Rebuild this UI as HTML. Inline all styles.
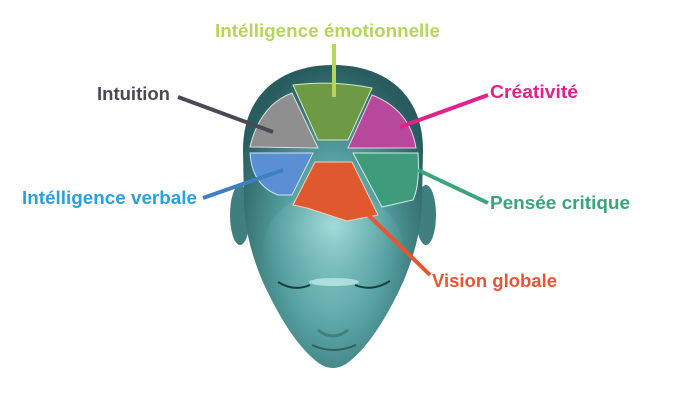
<!DOCTYPE html>
<html><head><style>
body{margin:0;background:#fff;width:679px;height:410px;overflow:hidden}
svg text{font-family:"Liberation Sans",sans-serif;font-weight:bold;font-size:18px}
</style></head><body>
<svg width="679" height="410" viewBox="0 0 679 410" xmlns="http://www.w3.org/2000/svg">
<defs>
<radialGradient id="hg" cx="0.5" cy="0.6" r="0.6">
<stop offset="0" stop-color="#8fd0cf"/><stop offset="0.5" stop-color="#559f9f"/><stop offset="1" stop-color="#285c5e"/>
</radialGradient>
<radialGradient id="fg" cx="0.5" cy="0.3" r="0.6">
<stop offset="0" stop-color="#a5dcdb"/><stop offset="1" stop-color="#4e9899" stop-opacity="0"/>
</radialGradient>
</defs>
<ellipse cx="240" cy="215" rx="10" ry="30" fill="#3f7f80"/>
<ellipse cx="426" cy="215" rx="10" ry="30" fill="#3f7f80"/>
<path d="M333,65 C280,65 243,95 243,150 L244,205 C246,235 252,255 262,280 C280,320 300,350 320,364 Q333,372 346,364 C366,350 386,320 404,280 C414,255 420,235 422,205 L423,150 C423,95 386,65 333,65 Z" fill="url(#hg)"/>
<ellipse cx="333" cy="250" rx="70" ry="60" fill="url(#fg)"/>
<path d="M278,282 Q294,292 310,285" stroke="#1b3c3d" stroke-width="2" fill="none"/>
<path d="M355,285 Q372,292 390,281" stroke="#1b3c3d" stroke-width="2" fill="none"/>
<ellipse cx="334" cy="282" rx="25" ry="4" fill="#c8eeee" opacity="0.7"/>
<path d="M318,330 Q333,342 348,330" stroke="#3a7374" stroke-width="3" fill="none" opacity="0.7"/>
<path d="M312,345 Q333,355 356,345" stroke="#2f5f60" stroke-width="2" fill="none"/>
<path d="M293,85 Q333,80 372,88 L348,140 L318,140 Z" fill="#6e9a45" stroke="#d8e8c0" stroke-width="1"/>
<path d="M292,93 Q260,105 250,147 L318,148 Z" fill="#8f8f8f" stroke="#ddd" stroke-width="1"/>
<path d="M372,95 Q410,110 416,148 L348,148 Z" fill="#b8489c" stroke="#eecce4" stroke-width="1"/>
<path d="M250,153 L313,153 L292,195 L278,195 Q252,185 250,153 Z" fill="#5b8fd4" stroke="#d0e0f4" stroke-width="1"/>
<path d="M353,153 L418,153 Q420,185 413,200 L382,207 Z" fill="#3e9c7c" stroke="#cceee0" stroke-width="1"/>
<path d="M315,162 L352,162 L378,215 L347,221 L307,208 L293,205 Z" fill="#e0592e" stroke="#f6d0c0" stroke-width="1"/>
<g stroke-width="4" fill="none">
<line x1="334" y1="44" x2="334" y2="97" stroke="#b5d65a"/>
<line x1="178" y1="97" x2="273" y2="132" stroke="#4a4a55"/>
<line x1="488" y1="95" x2="400" y2="127" stroke="#e0228a"/>
<line x1="203" y1="198" x2="283" y2="170" stroke="#3f7fc4"/>
<line x1="418" y1="170" x2="488" y2="203" stroke="#3aa57a"/>
<line x1="355" y1="202" x2="430" y2="275" stroke="#e85530"/>
</g>
<text x="215" y="37" textLength="225" lengthAdjust="spacingAndGlyphs" fill="#b5d65a">Intélligence émotionnelle</text>
<text x="97" y="100" textLength="73" lengthAdjust="spacingAndGlyphs" fill="#4a4a55">Intuition</text>
<text x="490" y="98" textLength="88" lengthAdjust="spacingAndGlyphs" fill="#e0228a">Créativité</text>
<text x="22" y="204" textLength="175" lengthAdjust="spacingAndGlyphs" fill="#2aa0dc">Intélligence verbale</text>
<text x="490" y="209" textLength="140" lengthAdjust="spacingAndGlyphs" fill="#3aa57a">Pensée critique</text>
<text x="432" y="287" textLength="125" lengthAdjust="spacingAndGlyphs" fill="#e85530">Vision globale</text>
</svg>
</body></html>
